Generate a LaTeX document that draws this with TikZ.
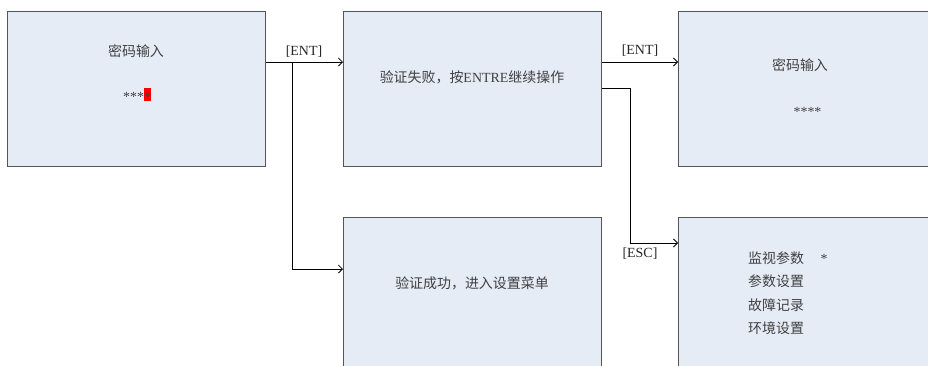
\documentclass[tikz,border=0pt]{standalone}
\usepackage{fontspec}
\setmainfont{Liberation Serif}
\newfontfamily\cjk{Noto Sans CJK SC}
\usetikzlibrary{arrows.meta,calc}
\definecolor{boxfill}{HTML}{E6ECF6}
\definecolor{boxline}{HTML}{555555}
\definecolor{txt}{HTML}{404040}
\begin{document}
\begin{tikzpicture}[x=1bp,y=-1bp,
  box/.style={draw=boxline,fill=boxfill,line width=1pt,minimum width=258bp,minimum height=155bp,anchor=north west,inner sep=0pt},
  cn/.style={font=\cjk\fontsize{14}{17}\selectfont,text=txt,inner sep=0pt},
  lbl/.style={font=\fontsize{14}{16}\selectfont,text=black!85,inner sep=0pt},
  stars/.style={font=\fontsize{14}{16}\selectfont,text=txt,inner sep=0pt},
  arr/.style={draw=black,line width=0.8pt,-{Straight Barb[length=4pt,width=8pt]}}]
\useasboundingbox (0,0) rectangle (928,365);
\clip (0,0) rectangle (928,365);
\node[box] (a) at (7,11) {};
\node[box] (b) at (343,11) {};
\node[box] (c) at (678,11) {};
\node[box] (d) at (343,217) {};
\node[box] (e) at (678,217) {};
% texts
\node[cn] (ta) at (136,51) {密码输入};
\fill[red] (144,88) rectangle (151,101);
\node[stars] (sa) at (137,97) {****};
\node[cn] (tb) at (472,77) {验证失败，按{\rmfamily ENTRE}继续操作};
\node[cn] (tc) at (800,65) {密码输入};
\node[stars] (sc) at (807.5,112) {****};
\node[cn] (td) at (472,283) {验证成功，进入设置菜单};
\node[cn,anchor=west] (e1) at (748,258) {监视参数};
\node[stars] (es) at (824,259) {*};
\node[cn,anchor=west] (e2) at (748,281) {参数设置};
\node[cn,anchor=west] (e3) at (748,305) {故障记录};
\node[cn,anchor=west] (e4) at (748,328) {环境设置};
% connectors
\coordinate (a1) at ($(a.north east)+(0,51)$);
\coordinate (j) at ($(a1)+(26.5,0)$);
\draw[arr] (a1) -- (a1 -| b.west);
\draw[arr] (j) |- ($(d.north west)+(0,52)$);
\coordinate (b1) at ($(b.north east)+(0,51)$);
\draw[arr] (b1) -- (b1 -| c.west);
\draw[arr] ($(b.north east)+(0,77)$) -- ++(28,0) |- ($(e.north west)+(0,26)$);
\node[lbl] (l1) at (304,52) {[ENT]};
\node[lbl] (l2) at (640,51) {[ENT]};
\node[lbl] (l3) at (640,254) {[ESC]};
\end{tikzpicture}
\end{document}
